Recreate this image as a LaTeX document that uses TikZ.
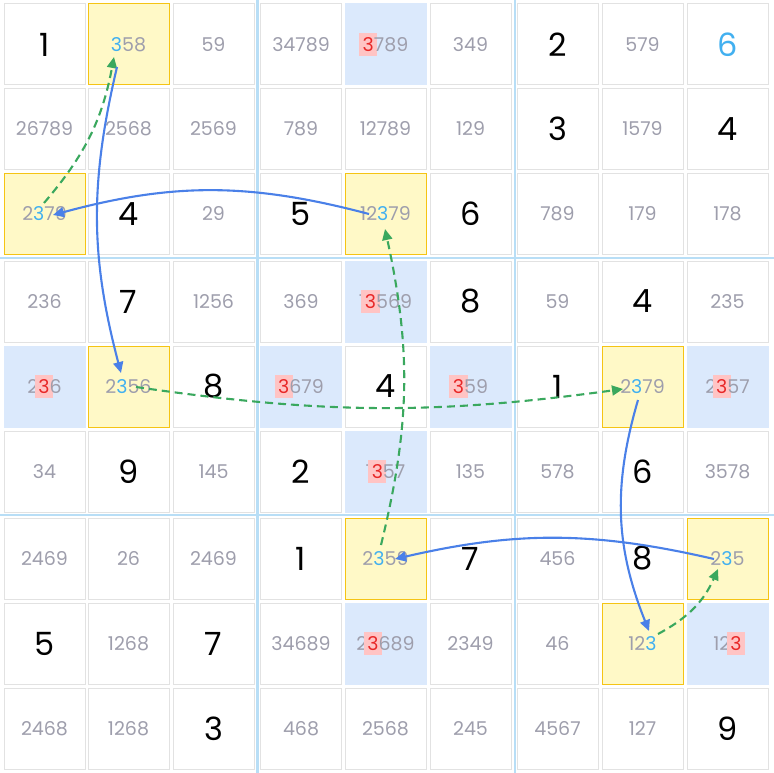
\documentclass[tikz,border=0pt]{standalone}
\usepackage{fontspec}
\setmainfont{Poppins}
\usetikzlibrary{arrows.meta}
\definecolor{cand}{RGB}{158,158,172}
\definecolor{cellb}{RGB}{226,226,226}
\definecolor{yfill}{RGB}{255,249,199}
\definecolor{ybord}{RGB}{245,196,20}
\definecolor{bfill}{RGB}{219,233,252}
\definecolor{pk}{RGB}{255,196,196}
\definecolor{rd}{RGB}{232,40,40}
\definecolor{hbl}{RGB}{66,176,240}
\definecolor{boxl}{RGB}{184,222,246}
\definecolor{arb}{RGB}{74,128,232}
\definecolor{arg}{RGB}{58,168,94}
\newlength\hlw
\newcommand\hr[1]{\settowidth\hlw{#1}\makebox[\hlw]{\smash{\color{pk}\rule[-5pt]{\dimexpr\hlw+7pt\relax}{23pt}}}\kern-\hlw\textcolor{rd}{#1}}
\newcommand\hb[1]{\textcolor{hbl}{#1}}
\tikzset{
  cell/.style={draw=cellb, line width=1pt, minimum size=81pt, inner sep=0pt, fill=white},
  giv/.style={font=\fontsize{32}{32}\selectfont, text=black},
  cnd/.style={font=\fontsize{19}{19}\selectfont, text=cand},
  yc/.style={fill=yfill, draw=ybord},
  bc/.style={fill=bfill, draw=bfill},
  bluearrow/.style={draw=arb, line width=2.1pt, -{Triangle[length=11pt,width=10pt]}},
  greenarrow/.style={draw=arg, line width=2.1pt, dash pattern=on 8pt off 5pt, -{Triangle[length=11pt,width=10pt]}},
  boxline/.style={draw=boxl, line width=2.5pt}
}
\begin{document}
\begin{tikzpicture}[x=1pt,y=-1pt]
\useasboundingbox (0,0) rectangle (774,773);
\fill[white] (0,0) rectangle (774,773);
\draw[boxline] (257.5,0) -- (257.5,773);
\draw[boxline] (515,0) -- (515,773);
\draw[boxline] (0,258) -- (774,258);
\draw[boxline] (0,515) -- (774,515);
% row 1
\node[cell,giv] (c11) at (44.5,44.5) {1};
\node[cell,cnd,yc] (c12) at (128.5,44.5) {\hb{3}58};
\node[cell,cnd] (c13) at (213.5,44.5) {59};
\node[cell,cnd] (c14) at (301,44.5) {34789};
\node[cell,cnd,bc] (c15) at (385.5,44.5) {\hr{3}789};
\node[cell,cnd] (c16) at (470.5,44.5) {349};
\node[cell,giv] (c17) at (557.5,44.5) {2};
\node[cell,cnd] (c18) at (642.5,44.5) {579};
\node[cell,giv,text=hbl] (c19) at (727.5,44.5) {6};
% row 2
\node[cell,cnd] (c21) at (44.5,129) {26789};
\node[cell,cnd] (c22) at (128.5,129) {2568};
\node[cell,cnd] (c23) at (213.5,129) {2569};
\node[cell,cnd] (c24) at (301,129) {789};
\node[cell,cnd] (c25) at (385.5,129) {12789};
\node[cell,cnd] (c26) at (470.5,129) {129};
\node[cell,giv] (c27) at (557.5,129) {3};
\node[cell,cnd] (c28) at (642.5,129) {1579};
\node[cell,giv] (c29) at (727.5,129) {4};
% row 3
\node[cell,cnd,yc] (c31) at (44.5,214) {2\hb{3}79};
\node[cell,giv] (c32) at (128.5,214) {4};
\node[cell,cnd] (c33) at (213.5,214) {29};
\node[cell,giv] (c34) at (301,214) {5};
\node[cell,cnd,yc] (c35) at (385.5,214) {12\hb{3}79};
\node[cell,giv] (c36) at (470.5,214) {6};
\node[cell,cnd] (c37) at (557.5,214) {789};
\node[cell,cnd] (c38) at (642.5,214) {179};
\node[cell,cnd] (c39) at (727.5,214) {178};
% row 4
\node[cell,cnd] (c41) at (44.5,301.5) {236};
\node[cell,giv] (c42) at (128.5,301.5) {7};
\node[cell,cnd] (c43) at (213.5,301.5) {1256};
\node[cell,cnd] (c44) at (301,301.5) {369};
\node[cell,cnd,bc] (c45) at (385.5,301.5) {1\hr{3}569};
\node[cell,giv] (c46) at (470.5,301.5) {8};
\node[cell,cnd] (c47) at (557.5,301.5) {59};
\node[cell,giv] (c48) at (642.5,301.5) {4};
\node[cell,cnd] (c49) at (727.5,301.5) {235};
% row 5
\node[cell,cnd,bc] (c51) at (44.5,386.5) {2\hr{3}6};
\node[cell,cnd,yc] (c52) at (128.5,386.5) {2\hb{3}56};
\node[cell,giv] (c53) at (213.5,386.5) {8};
\node[cell,cnd,bc] (c54) at (301,386.5) {\hr{3}679};
\node[cell,giv] (c55) at (385.5,386.5) {4};
\node[cell,cnd,bc] (c56) at (470.5,386.5) {\hr{3}59};
\node[cell,giv] (c57) at (557.5,386.5) {1};
\node[cell,cnd,yc] (c58) at (642.5,386.5) {2\hb{3}79};
\node[cell,cnd,bc] (c59) at (727.5,386.5) {2\hr{3}57};
% row 6
\node[cell,cnd] (c61) at (44.5,471.5) {34};
\node[cell,giv] (c62) at (128.5,471.5) {9};
\node[cell,cnd] (c63) at (213.5,471.5) {145};
\node[cell,giv] (c64) at (301,471.5) {2};
\node[cell,cnd,bc] (c65) at (385.5,471.5) {1\hr{3}57};
\node[cell,cnd] (c66) at (470.5,471.5) {135};
\node[cell,cnd] (c67) at (557.5,471.5) {578};
\node[cell,giv] (c68) at (642.5,471.5) {6};
\node[cell,cnd] (c69) at (727.5,471.5) {3578};
% row 7
\node[cell,cnd] (c71) at (44.5,558.5) {2469};
\node[cell,cnd] (c72) at (128.5,558.5) {26};
\node[cell,cnd] (c73) at (213.5,558.5) {2469};
\node[cell,giv] (c74) at (301,558.5) {1};
\node[cell,cnd,yc] (c75) at (385.5,558.5) {2\hb{3}59};
\node[cell,giv] (c76) at (470.5,558.5) {7};
\node[cell,cnd] (c77) at (557.5,558.5) {456};
\node[cell,giv] (c78) at (642.5,558.5) {8};
\node[cell,cnd,yc] (c79) at (727.5,558.5) {2\hb{3}5};
% row 8
\node[cell,giv] (c81) at (44.5,643.5) {5};
\node[cell,cnd] (c82) at (128.5,643.5) {1268};
\node[cell,giv] (c83) at (213.5,643.5) {7};
\node[cell,cnd] (c84) at (301,643.5) {34689};
\node[cell,cnd,bc] (c85) at (385.5,643.5) {2\hr{3}689};
\node[cell,cnd] (c86) at (470.5,643.5) {2349};
\node[cell,cnd] (c87) at (557.5,643.5) {46};
\node[cell,cnd,yc] (c88) at (642.5,643.5) {12\hb{3}};
\node[cell,cnd,bc] (c89) at (727.5,643.5) {12\hr{3}};
% row 9
\node[cell,cnd] (c91) at (44.5,728.5) {2468};
\node[cell,cnd] (c92) at (128.5,728.5) {1268};
\node[cell,giv] (c93) at (213.5,728.5) {3};
\node[cell,cnd] (c94) at (301,728.5) {468};
\node[cell,cnd] (c95) at (385.5,728.5) {2568};
\node[cell,cnd] (c96) at (470.5,728.5) {245};
\node[cell,cnd] (c97) at (557.5,728.5) {4567};
\node[cell,cnd] (c98) at (642.5,728.5) {127};
\node[cell,giv] (c99) at (727.5,728.5) {9};
% arrow end points
\coordinate (s1) at (369,214); \coordinate (e1) at (53,215);
\coordinate (s2) at (44,203);  \coordinate (e2) at (114,57);
\coordinate (s3) at (117,67);  \coordinate (e3) at (121,373);
\coordinate (s4) at (136,387); \coordinate (e4) at (623,389);
\coordinate (s5) at (381,545); \coordinate (e5) at (385,229);
\coordinate (s6) at (714,559); \coordinate (e6) at (395,559);
\coordinate (s7) at (638,400); \coordinate (e7) at (649,631);
\coordinate (s8) at (658,634); \coordinate (e8) at (718,569);
\draw[bluearrow] (s1) to[bend right=15] (e1);
\draw[greenarrow] (s2) to[bend right=15] (e2);
\draw[bluearrow] (s3) to[bend right=14] (e3);
\draw[greenarrow] (s4) to[bend right=8] (e4);
\draw[greenarrow] (s5) to[bend right=13] (e5);
\draw[bluearrow] (s6) to[bend right=13] (e6);
\draw[bluearrow] (s7) to[bend right=19] (e7);
\draw[greenarrow] (s8) to[bend right=19] (e8);
\end{tikzpicture}
\end{document}
